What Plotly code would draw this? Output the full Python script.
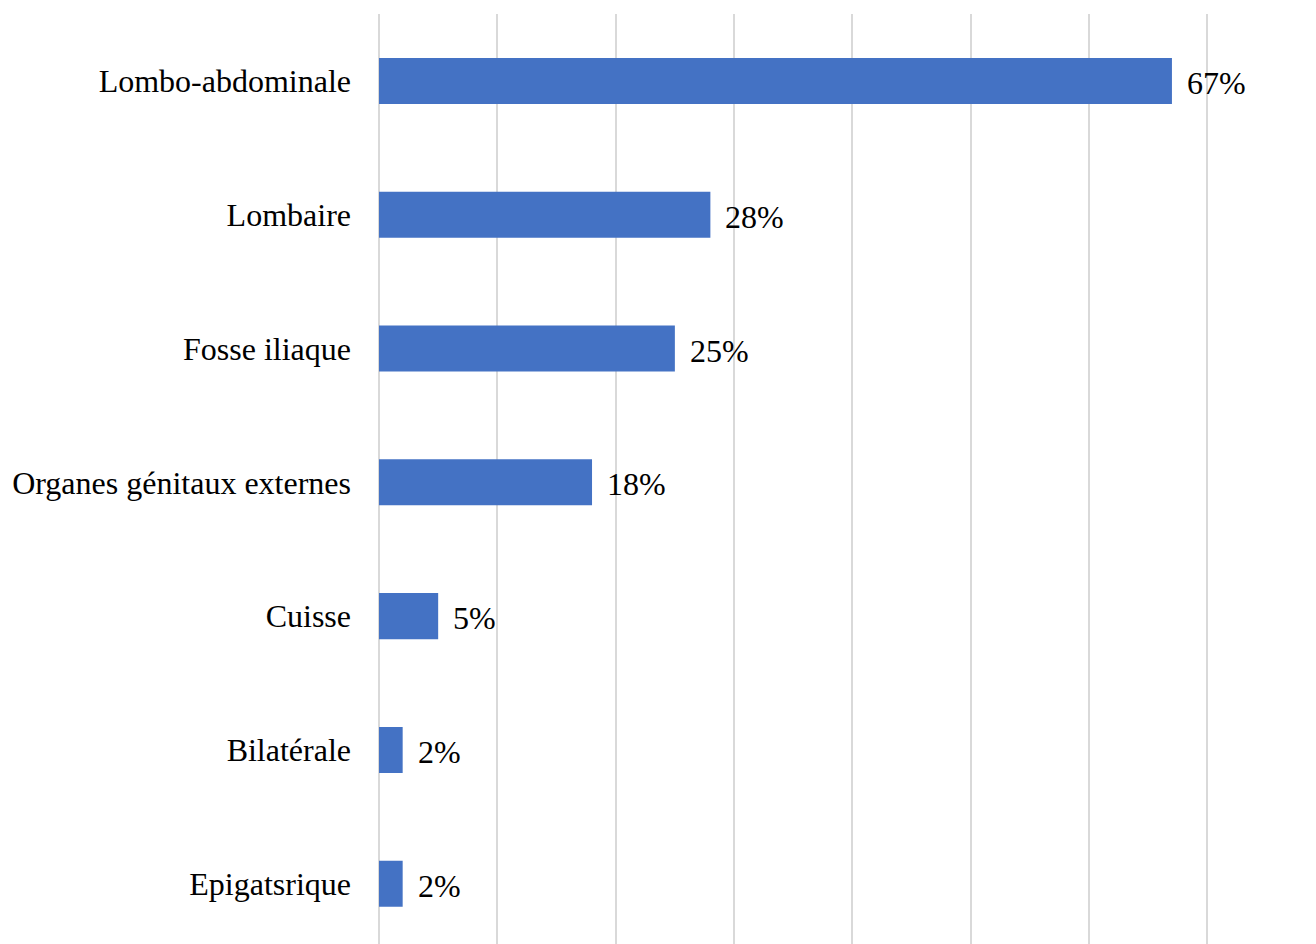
import plotly.graph_objects as go

categories = ["Lombo-abdominale", "Lombaire", "Fosse iliaque", "Organes génitaux externes",
              "Cuisse", "Bilatérale", "Epigatsrique"]
values = [67, 28, 25, 18, 5, 2, 2]
labels = ["67%", "28%", "25%", "18%", "5%", "2%", "2%"]

ypos = list(range(len(categories)))
FONT = "Liberation Serif, Times New Roman, serif"

fig = go.Figure()
fig.add_trace(go.Bar(
    x=values, y=ypos, orientation="h", width=0.344,
    marker=dict(color="#4472C4", line=dict(width=0)),
    hoverinfo="skip",
))
for v, y, t in zip(values, ypos, labels):
    fig.add_annotation(x=v, y=y, text=t, showarrow=False, xanchor="left",
                       xshift=13, yshift=-2, font=dict(family=FONT, size=32, color="#000000"))

fig.update_layout(
    width=1316, height=944,
    margin=dict(l=371, r=113, t=6, b=0),
    plot_bgcolor="white", paper_bgcolor="white",
    showlegend=False,
    font=dict(family=FONT, size=32, color="#000000"),
    xaxis=dict(range=[0, 70.3], dtick=10, showgrid=True, gridcolor="#d9d9d9", gridwidth=2,
               showticklabels=False, zeroline=True, zerolinecolor="#d9d9d9", zerolinewidth=2,
               showline=False, fixedrange=True),
    yaxis=dict(range=[6.51, -0.5], tickvals=ypos, ticktext=categories, showgrid=False,
               zeroline=False, showline=False, ticks="", ticklabelstandoff=27,
               tickfont=dict(family=FONT, size=32, color="#000000")),
)
fig.write_html("out.html")
